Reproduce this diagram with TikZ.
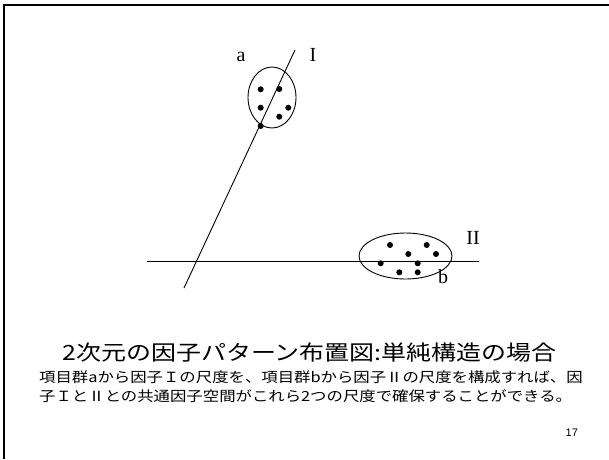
\documentclass[tikz,border=0pt]{standalone}
\usepackage{fontspec}
\setmainfont{Liberation Serif}
\newfontfamily\jpfont{Noto Sans CJK JP}
\newfontfamily\numfont{Liberation Sans}
\usetikzlibrary{positioning}

\tikzset{
  axisline/.style={line width=0.9pt},
  cluster/.style={line width=0.9pt},
  itemdot/.style={fill=black},
  axislabel/.style={inner sep=0pt,font=\fontsize{20}{24}\selectfont},
  notetext/.style={anchor=base west,inner sep=0pt,xscale=1.17,font=\jpfont\fontsize{14}{19}\selectfont},
}

\begin{document}
\begin{tikzpicture}[x=1pt,y=-1pt]
      \useasboundingbox (0,0) rectangle (609,459);
      % Slide frame.
      \draw[line width=2.5pt] (4,459) |- (612,5);

      %%%%%%%%%%%%%%%%%%%%%%%%%%%%%%%%%%%%%%%%%%%%%%%%%%%%%%%%%%%%%%%%%%%%%%%%%%
      %%% BEGIN: FACTOR AXES.
      %%%%%%%%%%%%%%%%%%%%%%%%%%%%%%%%%%%%%%%%%%%%%%%%%%%%%%%%%%%%%%%%%%%%%%%%%%
      \coordinate (oneLow) at (184,288);
      \coordinate (oneHigh) at (295,50);
      \coordinate (twoLeft) at (147,261);
      \coordinate (twoRight) at (479,261);
      \draw[axisline] (oneLow) -- (oneHigh);
      \draw[axisline] (twoLeft) -- (twoRight);
      \node[axislabel] (labelOne) at (313,55) {I};
      \node[axislabel] (labelTwo) at (473,238) {II};
      %%%%%%%%%%%%%%%%%%%%%%%%%%%%%%%%%%%%%%%%%%%%%%%%%%%%%%%%%%%%%%%%%%%%%%%%%%
      %%% END: FACTOR AXES.
      %%%%%%%%%%%%%%%%%%%%%%%%%%%%%%%%%%%%%%%%%%%%%%%%%%%%%%%%%%%%%%%%%%%%%%%%%%

      %%%%%%%%%%%%%%%%%%%%%%%%%%%%%%%%%%%%%%%%%%%%%%%%%%%%%%%%%%%%%%%%%%%%%%%%%%
      %%% BEGIN: ITEM GROUPS.
      %%%%%%%%%%%%%%%%%%%%%%%%%%%%%%%%%%%%%%%%%%%%%%%%%%%%%%%%%%%%%%%%%%%%%%%%%%
      % Group a.
      \draw[cluster] (272,97.5) ellipse [x radius=24, y radius=30.5];
      \foreach \px/\py in {260.7/89.3, 279.3/89, 260.7/107.7, 288.3/107.7, 279.3/116.7, 260.7/126}{
        \fill[itemdot] (\px,\py) circle (3pt);
      }
      \node[axislabel] (labelA) at (241,57) {a};

      % Group b.
      \draw[cluster] (405.5,256) ellipse [x radius=46.5, y radius=23];
      \foreach \px/\py in {390/245, 426.7/245, 408.3/254, 436/254, 380.7/263.3, 417.7/263.3, 399.3/272.3, 417.7/272.3}{
        \fill[itemdot] (\px,\py) circle (3pt);
      }
      \node[axislabel] (labelB) at (443,277) {b};
      %%%%%%%%%%%%%%%%%%%%%%%%%%%%%%%%%%%%%%%%%%%%%%%%%%%%%%%%%%%%%%%%%%%%%%%%%%
      %%% END: ITEM GROUPS.
      %%%%%%%%%%%%%%%%%%%%%%%%%%%%%%%%%%%%%%%%%%%%%%%%%%%%%%%%%%%%%%%%%%%%%%%%%%

      % Caption and notes.
      \node[anchor=base west,inner sep=0pt,xscale=1.19,font=\jpfont\fontsize{21}{26}\selectfont] (title) at (62,360)
        {2次元の因子パターン布置図:単純構造の場合};
      \node[notetext] (noteOne) at (39,382)
        {項目群aから因子Ｉの尺度を、項目群bから因子Ⅱの尺度を構成すれば、因};
      \node[notetext] (noteTwo) at (39,401)
        {子ＩとⅡとの共通因子空間がこれら2つの尺度で確保することができる。};
      \node[anchor=base west,inner sep=0pt,font=\numfont\fontsize{11}{13}\selectfont] (pageNo) at (565.5,436) {17};
\end{tikzpicture}
\end{document}
